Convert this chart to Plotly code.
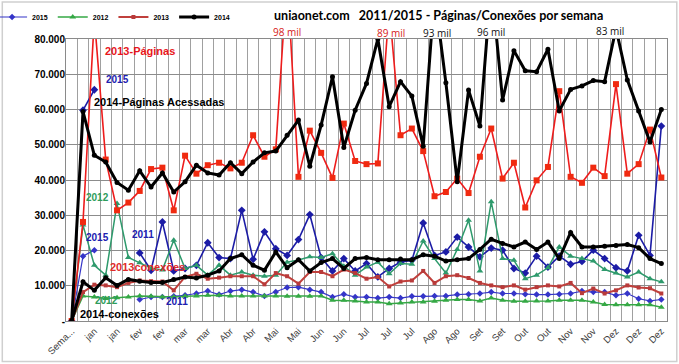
import plotly.graph_objects as go

# ---------------- data ----------------
tick_labels = ["Sema...", "jan", "jan", "fev", "fev", "mar", "mar", "Abr", "Abr", "Mai", "Mai",
               "Jun", "Jun", "Jul", "Jul", "Jul", "Ago", "Ago", "Set", "Set", "Out", "Out",
               "Nov", "Nov", "Dez", "Dez", "Dez"]

y_tick_vals = [0, 10000, 20000, 30000, 40000, 50000, 60000, 70000, 80000]
y_tick_text = ["-", "10.000", "20.000", "30.000", "40.000", "50.000", "60.000", "70.000", "80.000"]

# 2014 - páginas acessadas
pag_2014 = [0, 59400, 47000, 45100, 39300, 37100, 42600, 38000, 42000, 36600, 39500, 44200,
            42000, 41400, 44900, 41800, 45100, 47700, 48200, 52700, 57000, 43900, 55600,
            69300, 49200, 59800, 67400, 80000, 60800, 67900, 63800, 49600, 93000, 67600,
            39500, 65500, 55300, 96000, 62700, 76700, 71000, 70700, 77100, 59600, 65700,
            66700, 68200, 67900, 83000, 68400, 59600, 50800, 60000]
# 2014 - conexões
con_2014 = [0, 11100, 8700, 12300, 10100, 11800, 11300, 10900, 10900, 11800, 12500, 12200,
            13000, 14200, 17700, 18800, 15800, 14400, 19600, 15100, 17400, 14200, 16600,
            17700, 14900, 17700, 18000, 17400, 17400, 17600, 17400, 18800, 18400, 17000,
            17400, 17700, 20300, 23200, 22000, 21000, 22400, 20300, 22400, 17700, 25100,
            21000, 21000, 21200, 21400, 21700, 20800, 17700, 16300]
# 2013 - páginas
pag_2013 = [0, 28100, 86000, 45800, 31400, 33600, 36900, 43100, 43500, 31400, 46900, 41800,
            44200, 44900, 43300, 44900, 52700, 46600, 48700, 98000, 40900, 54000, 47700,
            40600, 56000, 45400, 44500, 44700, 89000, 52700, 54600, 48200, 35400, 36600,
            40400, 36300, 46600, 54600, 40400, 44900, 32200, 39900, 43700, 65200, 40900,
            39200, 43500, 41100, 67200, 41800, 44500, 54300, 40700]
# 2013 - conexões
con_2013 = [0, 8200, 10300, 10100, 9600, 10800, 11500, 11300, 11200, 8700, 12500, 13400,
            12000, 12300, 12700, 12700, 12700, 10400, 13600, 12700, 10600, 13900, 13900,
            12700, 14600, 13600, 12000, 12500, 9800, 11200, 11500, 14200, 10800, 12700,
            13000, 12200, 10800, 10100, 9600, 10100, 8900, 9600, 10100, 9800, 10800,
            7900, 9200, 7800, 8700, 10100, 9500, 9300, 7800]
# 2012 - páginas
pag_2012 = [0, 27200, 15800, 13000, 33300, 18000, 16500, 15000, 14500, 22900, 14900, 15800,
            13000, 15800, 13000, 13900, 13000, 12700, 13000, 16700, 17300, 18200, 18000,
            19100, 15500, 13000, 15300, 16700, 13400, 16300, 16100, 22700, 17700, 13600,
            20300, 28600, 14200, 33800, 17700, 17200, 12000, 13000, 15100, 21000, 18400,
            17700, 17000, 14600, 13600, 12500, 13900, 12000, 11100]
# 2012 - conexões
con_2012 = [0, 7100, 6800, 6400, 6600, 6800, 7100, 7000, 6800, 6800, 7000, 7100,
            7300, 7300, 7100, 7100, 7100, 7100, 7100, 7000, 7000, 7000, 7100,
            5900, 5900, 5700, 5400, 5400, 4900, 5100, 5400, 5400, 5600, 5900,
            6100, 6100, 5700, 6500, 5900, 5600, 5600, 5700, 5700, 5900, 5900,
            5900, 5400, 4700, 4600, 4600, 4600, 4600, 3900]
# 2015 (início) / 2011 - páginas
pag_2011 = [0, 59800, 65600, None, None, None, 19300, 14400, 28100, 14200, 14900, 15800,
            22200, 18000, 17700, 31400, 17500, 25300, 20500, 18600, 23100, 30200, 18000,
            14200, 17700, 14200, 16300, 12500, 14900, 16700, 17200, 27800, 18600, 19600,
            23800, 21000, 18200, 20700, 20100, 14900, 13600, 18400, 15300, 18400, 16100,
            16900, 20100, 17700, 15100, 14200, 24300, 18600, 55300]
# 2015 (início) / 2011 - conexões
con_2011 = [0, 18400, 20100, None, None, None, 6100, 6800, 6800, 7000, 7300, 7800,
            8500, 7500, 8500, 8900, 8200, 7100, 8200, 9500, 9600, 8900, 8200,
            6800, 7600, 6800, 6800, 6500, 6800, 6500, 7000, 7000, 7100, 7100,
            7500, 7600, 7800, 8200, 7800, 7800, 7600, 7500, 7500, 7600, 7800,
            8500, 8200, 8200, 7300, 7800, 6300, 5700, 6100]

weeks = list(range(len(pag_2014)))

# ---------------- figure ----------------
fig = go.Figure()

def add(y, name, color, lw, symbol, msize, mcolor=None, show=True):
    fig.add_trace(go.Scatter(
        x=weeks, y=y, name=name, mode="lines+markers", connectgaps=False,
        line=dict(color=color, width=lw),
        marker=dict(symbol=symbol, size=msize, color=mcolor or color),
        showlegend=show))

add(con_2011, "2015", "#3535c8", 1.2, "diamond", 5)
add(pag_2011, "", "#1c1ca6", 1.6, "diamond", 6, show=False)
add(con_2012, "2012", "#35a845", 1.5, "triangle-up", 6)
add(pag_2012, "", "#2e9a6c", 1.5, "triangle-up", 6, show=False)
add(con_2013, "2013", "#c0403c", 2.0, "square", 4, "#b83a3a")
add(pag_2013, "", "#ee1c1c", 1.6, "square", 6, "#f02a10", show=False)
add(con_2014, "2014", "#000000", 3.0, "circle", 5)
add(pag_2014, "", "#000000", 3.0, "circle", 5, show=False)

BF = "Liberation Sans"

def label(text, x, y, color, size=11, xanchor="center", yref="y", weight="bold", family=BF):
    fig.add_annotation(text=text, x=x, y=y, xref="x", yref=yref, showarrow=False,
                       xanchor=xanchor, yanchor="middle",
                       font=dict(family=family, size=size, color=color, weight=weight))

label("2013-Páginas", 6.0, 76600, "#e8161c", 11)
label("2015", 4.0, 68600, "#2020b0", 10)
label("2014-Páginas Acessadas", 1.8, 62100, "#000000", 11, "left")
label("2012", 2.3, 35100, "#2e9c5a", 10)
label("2015", 2.3, 23800, "#2020b0", 10)
label("2011", 6.25, 24600, "#2020b0", 10)
label("2013conexões", 3.2, 15200, "#e02a2a", 11, "left")
label("2012", 3.1, 5850, "#2e9c5a", 10)
label("2011", 9.3, 5650, "#2020b0", 10)
label("2014-conexões", 0.56, 1900, "#000000", 11, "left")

label("98 mil", 19.0, 1.025, "#d62020", 10, yref="paper", weight="normal", family="Open Sans")
label("89 mil", 28.2, 1.023, "#d62020", 10, yref="paper", weight="normal", family="Open Sans")
label("93 mil", 32.2, 1.020, "#111111", 10, yref="paper", weight="normal", family="Open Sans")
label("96 mil", 37.0, 1.026, "#111111", 10, yref="paper", weight="normal", family="Open Sans")
label("83 mil", 47.5, 1.029, "#111111", 10, yref="paper", weight="normal", family="Open Sans")

# outer chart frame
fig.add_shape(type="rect", xref="paper", yref="paper",
              x0=-0.106, x1=1.0163, y0=-0.1436, y1=1.131,
              line=dict(color="#cfcfcf", width=1.5), layer="below")

fig.update_layout(
    width=679, height=364,
    margin=dict(l=66, r=12, t=39, b=43, pad=0, autoexpand=False),
    paper_bgcolor="white", plot_bgcolor="white",
    title=dict(text="uniaonet.com\u00a0\u00a0 2011/2015 - Páginas/Conexões por semana",
               x=0.646, y=0.956, xref="container", yref="container",
               xanchor="center", yanchor="middle",
               font=dict(family="Lato", size=12.5, color="#000", weight="bold")),
    legend=dict(orientation="h", x=-0.123, y=1.078, xanchor="left", yanchor="middle",
                font=dict(family=BF, size=7, color="#000", weight="bold"),
                bgcolor="rgba(0,0,0,0)", itemwidth=30, tracegroupgap=0),
    xaxis=dict(range=[-0.5, len(weeks) - 0.5], tickmode="array", automargin=False,
               tickvals=weeks[::2], ticktext=tick_labels, tickangle=-45,
               tickfont=dict(family=BF, size=9.5, color="#404040"),
               showgrid=False, zeroline=False, ticks="",
               minor=dict(tickmode="array", tickvals=[w + 0.5 for w in weeks[:-1]],
                          showgrid=True, gridcolor="#a0a0a0", gridwidth=1, ticks=""),
               showline=True, mirror=True, linecolor="#8a8a8a", linewidth=1),
    yaxis=dict(range=[0, 80000], tickmode="array", tickvals=y_tick_vals, ticktext=y_tick_text,
               tickfont=dict(family=BF, size=10, color="#000", weight="bold"),
               showgrid=True, gridcolor="#8c8c8c", gridwidth=1, zeroline=False, ticks="",
               ticklabelstandoff=-2, automargin=False,
               showline=True, mirror=True, linecolor="#8a8a8a", linewidth=1),
)

fig.write_html("out.html", config={"displayModeBar": False},
               post_script="document.body.style.margin='0';document.body.style.overflow='hidden';")
